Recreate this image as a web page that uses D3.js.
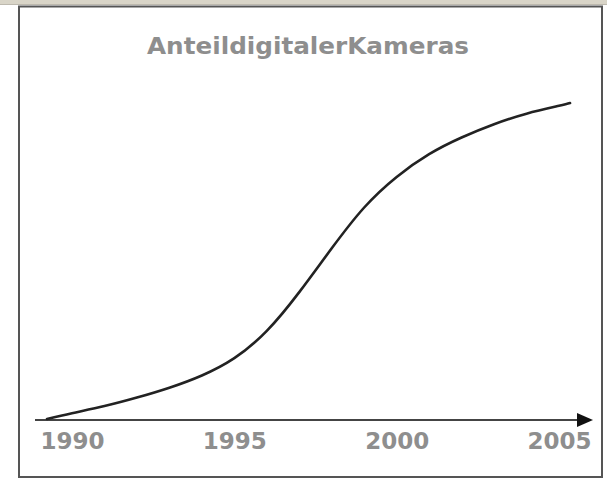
<!DOCTYPE html>
<html>
<head>
<meta charset="utf-8">
<script src="https://cdn.jsdelivr.net/npm/d3@7"></script>
<style>
  html, body { margin: 0; padding: 0; background: #fff; }
  svg { display: block; }
</style>
</head>
<body>
<div id="chart"></div>
<script>
// values (share in %, estimated)
const title = 'AnteildigitalerKameras'
const tickYears = [1990, 1995, 2000, 2005]
const years = [1989.23, 1990, 1991, 1992, 1993, 1994, 1995, 1996, 1997, 1998, 1999, 2000, 2001, 2002, 2003, 2004, 2005, 2005.34]
const shares = [0.3, 2.0, 4.1, 6.6, 9.5, 13.1, 18.2, 26.2, 37.6, 50.5, 62.5, 71.5, 78.2, 83.1, 87.0, 90.1, 92.4, 93.2]

const W = 607, H = 479
const svg = d3.select('#chart').append('svg')
  .attr('width', W)
  .attr('height', H)

// beige strip on top, frame
svg.append('rect').attr('x', 0).attr('y', 0).attr('width', W).attr('height', 4).attr('fill', '#d9d5c8')
svg.append('rect').attr('x', 0).attr('y', 4).attr('width', W).attr('height', 1).attr('fill', '#bdb9ae')
svg.append('rect')
  .attr('x', 19).attr('y', 6.5)
  .attr('width', 583).attr('height', 470.5)
  .attr('fill', '#fff')
  .attr('stroke', '#555')
  .attr('stroke-width', 2)

const x = d3.scaleLinear().domain([1990, 2005]).range([72, 559])
const y = d3.scaleLinear().domain([0, 100]).range([420, 80])

svg.append('text')
  .attr('x', 308)
  .attr('y', 54)
  .attr('text-anchor', 'middle')
  .attr('font-family', 'DejaVu Sans')
  .attr('font-weight', 'bold')
  .attr('font-size', 23)
  .attr('fill', '#8e8e8e')
  .attr('textLength', 322)
  .attr('lengthAdjust', 'spacingAndGlyphs')
  .text(title)

// x axis with arrow
const axisY = y(0)
svg.append('line')
  .attr('x1', 35).attr('x2', 580)
  .attr('y1', axisY).attr('y2', axisY)
  .attr('stroke', '#444')
  .attr('stroke-width', 2)
svg.append('path')
  .attr('d', `M577,${axisY - 7}L593,${axisY}L577,${axisY + 7}Z`)
  .attr('fill', '#111')

const xAxis = svg.append('g')
  .attr('transform', `translate(0,${axisY})`)
  .call(d3.axisBottom(x).tickValues(tickYears).tickFormat(d3.format('d')).tickSize(0).tickPadding(13))
xAxis.select('.domain').remove()
xAxis.selectAll('.tick text')
  .attr('font-family', 'DejaVu Sans')
  .attr('font-weight', 'bold')
  .attr('font-size', 23)
  .attr('fill', '#8e8e8e')

const line = d3.line()
  .x((d, i) => x(years[i]))
  .y(d => y(d))
  .curve(d3.curveNatural)

svg.append('path')
  .datum(shares)
  .attr('d', line)
  .attr('fill', 'none')
  .attr('stroke', '#222')
  .attr('stroke-width', 2.6)
  .attr('stroke-linecap', 'round')
</script>
</body>
</html>
